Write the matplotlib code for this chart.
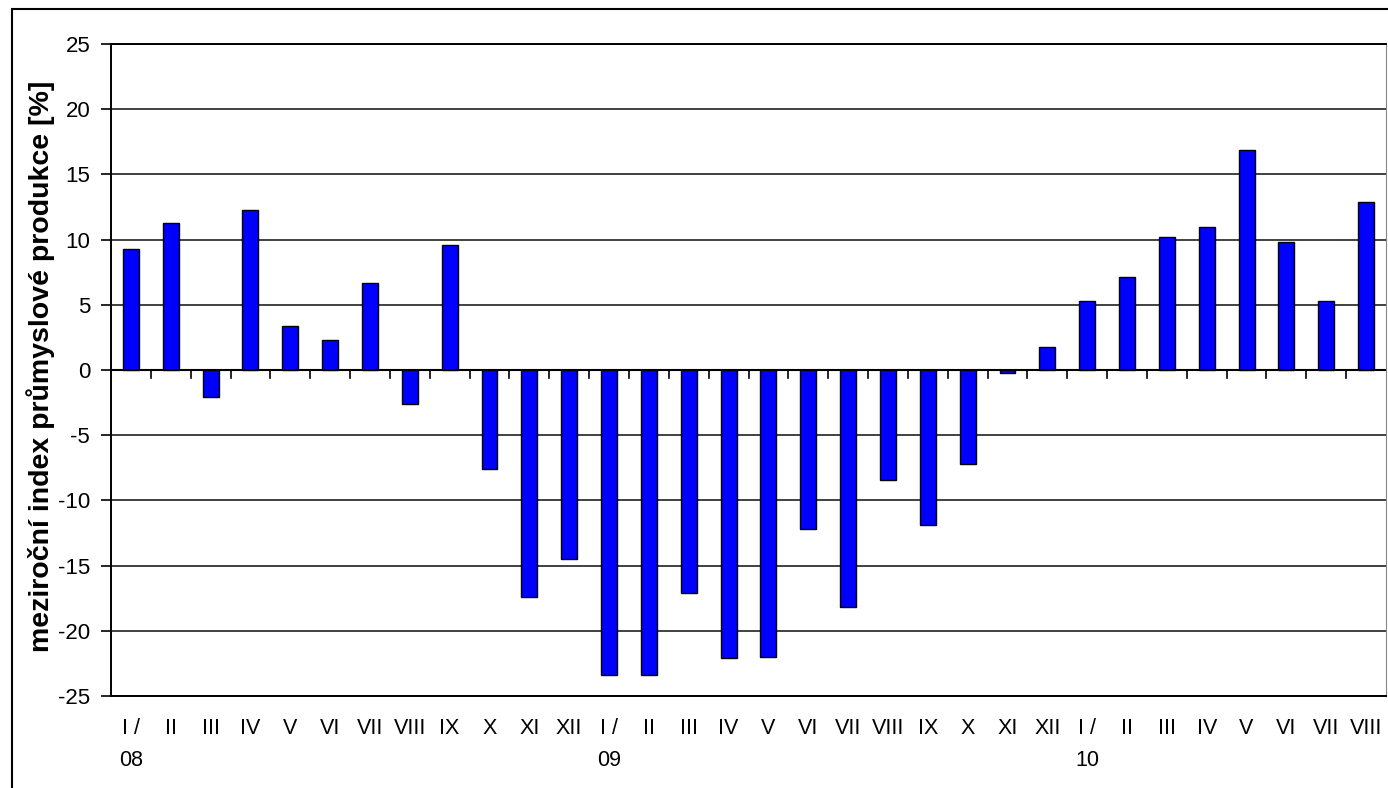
import numpy as np
import matplotlib.pyplot as plt
from matplotlib.patches import Rectangle

plt.rcParams['font.family'] = ['Liberation Sans', 'DejaVu Sans']
plt.rcParams['axes.unicode_minus'] = False

months = ["I /\n08", "II", "III", "IV", "V", "VI", "VII", "VIII", "IX", "X", "XI", "XII",
          "I /\n09", "II", "III", "IV", "V", "VI", "VII", "VIII", "IX", "X", "XI", "XII",
          "I /\n10", "II", "III", "IV", "V", "VI", "VII", "VIII"]
values = [9.3, 11.3, -2.1, 12.3, 3.4, 2.3, 6.7, -2.6, 9.6, -7.6, -17.4, -14.5,
          -23.4, -23.4, -17.1, -22.1, -22.0, -12.2, -18.2, -8.4, -11.9, -7.2, -0.2, 1.8,
          5.3, 7.1, 10.2, 11.0, 16.9, 9.8, 5.3, 12.9]
yticks = [25, 20, 15, 10, 5, 0, -5, -10, -15, -20, -25]


def main():
    fig = plt.figure(figsize=(13.88, 7.88), dpi=100)
    ax = fig.add_axes([111 / 1388, 1 - 696 / 788, 1275 / 1388, 652 / 788])

    # outer chart frame (partly cut off at the right and bottom)
    fig.patches.append(Rectangle((12 / 1388, -0.01), 1.0, 1 - 9 / 788 + 0.01,
                                 transform=fig.transFigure, fill=False,
                                 edgecolor='black', linewidth=1.5))

    x = np.arange(len(values))
    ax.bar(x, values, width=0.4, color='#0000ff', edgecolor='black', linewidth=1.0, zorder=3)

    ax.set_xlim(-0.5, len(values) - 0.5)
    ax.set_ylim(-25, 25)
    ax.set_yticks(yticks)
    ax.yaxis.grid(True, color='#333333', linewidth=1.3, zorder=0)
    ax.tick_params(axis='y', labelsize=16, length=7, width=1.2, direction='out', pad=8)

    # category labels below the plot, ticks on the zero line between categories
    ax.set_xticks(x)
    ax.set_xticklabels(months, fontsize=15.5, linespacing=1.7, va='top')
    ax.tick_params(axis='x', length=0, pad=16)
    for xi in np.arange(0.5, len(values) - 0.5, 1.0):
        ax.plot([xi, xi], [0, -0.6], color='black', linewidth=1.2, zorder=4, clip_on=False)
    ax.axhline(0, color='black', linewidth=1.5, zorder=4)

    for side in ['left', 'bottom', 'top']:
        ax.spines[side].set_linewidth(1.4)
    ax.spines['right'].set_color('#888888')

    ax.set_ylabel("meziroční index průmyslové produkce [%]", fontsize=20.5, fontweight='bold')
    ax.yaxis.set_label_coords(-0.044, 0.505)

    fig.savefig("out.png", dpi=100)


if __name__ == '__main__':
    main()
